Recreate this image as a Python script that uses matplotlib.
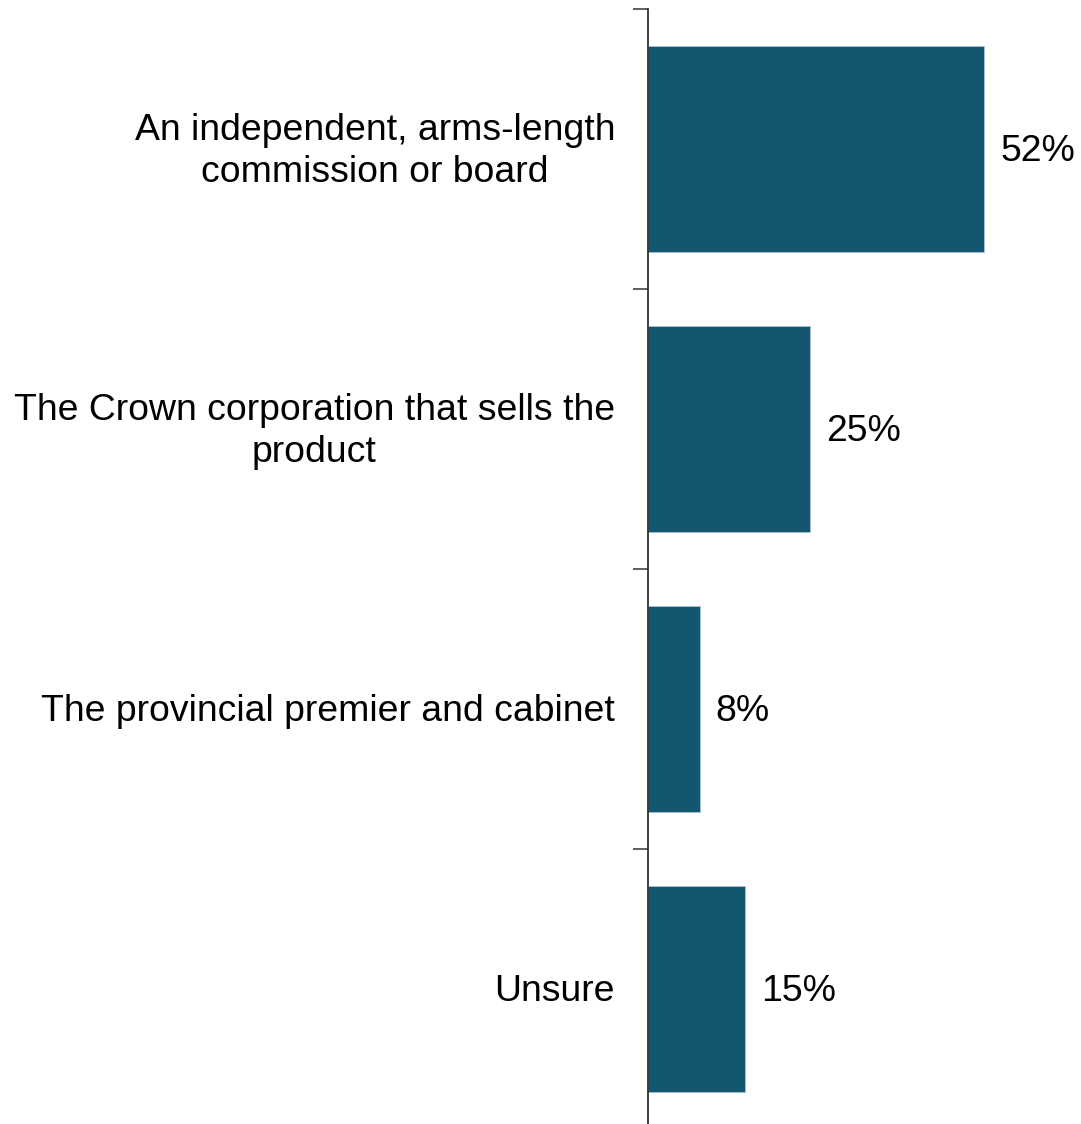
import matplotlib
matplotlib.use("Agg")
import matplotlib.pyplot as plt

categories = [
    "An independent, arms-length\ncommission or board",
    "The Crown corporation that sells the\nproduct",
    "The provincial premier and cabinet",
    "Unsure",
]
values = [52, 25, 8, 15]
value_labels = ["52%", "25%", "8%", "15%"]

W, H = 1081, 1124
fig = plt.figure(figsize=(W / 100, H / 100), dpi=100)
plt.rcParams["font.family"] = ["Liberation Sans", "DejaVu Sans"]

# axes spans the plotting band; bottom edge sits just below the canvas
left, right = 648, 1081
top, bottom = 9, 1129
ax = fig.add_axes([left / W, (H - bottom) / H, (right - left) / W, (bottom - top) / H])

bar_color = "#135670"
ypos = list(range(len(categories)))
ax.barh(ypos, values, height=0.735, color=bar_color, edgecolor="#a9c4d0", linewidth=0.6)

ax.set_xlim(0, 67)
ax.set_ylim(len(categories) - 0.5, -0.5)

fs = 26.9
dy = 0.009  # small downward nudge for text baselines
for y, v, lab in zip(ypos, values, value_labels):
    ax.text(v + 2.5, y + dy, lab, va="center", ha="left", fontsize=fs, color="black")

for y, cat in zip(ypos, categories):
    ax.text(-5.1, y + dy, cat, va="center", ha="right", multialignment="center",
            fontsize=fs, color="black", linespacing=1.27)

for s in ["top", "right", "bottom"]:
    ax.spines[s].set_visible(False)
ax.spines["left"].set_color("#222222")
ax.spines["left"].set_linewidth(1.2)

# tick marks at the category band boundaries
ax.set_yticks([i - 0.5 for i in range(len(categories) + 1)])
ax.set_yticklabels([])
ax.tick_params(axis="y", length=11, width=1.2, color="#444444", direction="out")
ax.set_xticks([])

fig.savefig("out.png", dpi=100)
